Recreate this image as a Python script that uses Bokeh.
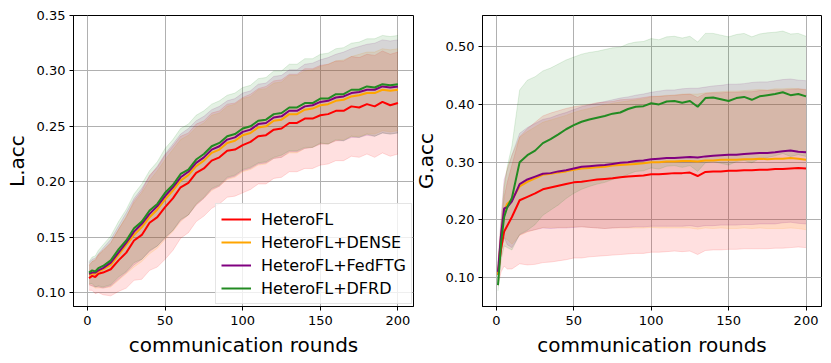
from bokeh.plotting import figure
from bokeh.models import ColumnDataSource, Legend, LegendItem, FixedTicker, NumeralTickFormatter, Range1d
from bokeh.layouts import row
from bokeh.embed import file_html
from bokeh.resources import INLINE

rounds = [1, 3, 5, 7, 10, 15, 20, 25, 30, 35, 40, 45, 50, 55, 60, 65, 70, 75, 80, 85, 90, 95,
          100, 105, 110, 115, 120, 125, 130, 135, 140, 145, 150, 155, 160, 165, 170, 175, 180,
          185, 190, 195, 200]

series_names = ["HeteroFL", "HeteroFL+DENSE", "HeteroFL+FedFTG", "HeteroFL+DFRD"]
series_colors = ["red", "orange", "purple", "forestgreen"]

# ---- local accuracy (left) ----
l_heterofl = [0.113, 0.115, 0.114, 0.117, 0.118, 0.121, 0.129, 0.136, 0.147, 0.152, 0.163, 0.168, 0.177, 0.185,
              0.195, 0.199, 0.208, 0.212, 0.219, 0.222, 0.228, 0.229, 0.233, 0.236, 0.241, 0.242, 0.247, 0.248,
              0.253, 0.253, 0.257, 0.257, 0.260, 0.261, 0.264, 0.264, 0.268, 0.267, 0.270, 0.268, 0.272, 0.269, 0.271]
l_dense = [0.116, 0.117, 0.117, 0.119, 0.121, 0.125, 0.134, 0.143, 0.152, 0.159, 0.168, 0.175, 0.184, 0.192,
           0.201, 0.206, 0.214, 0.219, 0.226, 0.229, 0.235, 0.237, 0.242, 0.244, 0.249, 0.250, 0.255, 0.256,
           0.261, 0.261, 0.265, 0.266, 0.269, 0.270, 0.273, 0.274, 0.277, 0.278, 0.280, 0.280, 0.283, 0.282, 0.283]
l_fedftg = [0.117, 0.118, 0.118, 0.120, 0.122, 0.127, 0.136, 0.145, 0.155, 0.162, 0.171, 0.178, 0.187, 0.195,
            0.204, 0.209, 0.217, 0.222, 0.229, 0.232, 0.238, 0.240, 0.245, 0.247, 0.252, 0.253, 0.258, 0.259,
            0.264, 0.264, 0.268, 0.269, 0.272, 0.273, 0.276, 0.277, 0.280, 0.281, 0.283, 0.283, 0.286, 0.285, 0.286]
l_dfrd = [0.118, 0.120, 0.119, 0.122, 0.124, 0.129, 0.139, 0.147, 0.158, 0.164, 0.174, 0.180, 0.190, 0.197,
          0.207, 0.211, 0.220, 0.225, 0.232, 0.235, 0.241, 0.243, 0.248, 0.250, 0.255, 0.256, 0.261, 0.262,
          0.267, 0.267, 0.271, 0.271, 0.275, 0.275, 0.279, 0.279, 0.283, 0.283, 0.286, 0.285, 0.288, 0.287, 0.288]

l_heterofl_std = [0.011, 0.013, 0.015, 0.017, 0.020, 0.024, 0.028, 0.032, 0.036, 0.040, 0.043, 0.045, 0.047, 0.047,
                  0.046, 0.045, 0.044, 0.043, 0.043, 0.042, 0.042, 0.042, 0.043, 0.043, 0.043, 0.044, 0.044, 0.044,
                  0.044, 0.044, 0.045, 0.045, 0.045, 0.045, 0.045, 0.045, 0.045, 0.045, 0.045, 0.046, 0.046, 0.046, 0.046]
l_dense_std = [0.009, 0.011, 0.013, 0.015, 0.017, 0.020, 0.023, 0.026, 0.029, 0.031, 0.033, 0.035, 0.036, 0.037,
               0.037, 0.036, 0.035, 0.034, 0.034, 0.033, 0.033, 0.033, 0.033, 0.033, 0.034, 0.034, 0.034, 0.034,
               0.035, 0.035, 0.035, 0.035, 0.035, 0.036, 0.036, 0.036, 0.036, 0.037, 0.037, 0.037, 0.037, 0.037, 0.037]
l_fedftg_std = [0.010, 0.012, 0.013, 0.015, 0.018, 0.021, 0.024, 0.027, 0.030, 0.032, 0.034, 0.036, 0.038, 0.039,
                0.039, 0.039, 0.038, 0.037, 0.036, 0.036, 0.035, 0.035, 0.035, 0.035, 0.036, 0.036, 0.037, 0.037,
                0.037, 0.037, 0.038, 0.038, 0.038, 0.039, 0.039, 0.040, 0.040, 0.041, 0.041, 0.042, 0.042, 0.042, 0.042]
l_dfrd_std = [0.010, 0.012, 0.014, 0.016, 0.019, 0.022, 0.025, 0.028, 0.031, 0.034, 0.036, 0.038, 0.040, 0.041,
              0.041, 0.041, 0.040, 0.039, 0.038, 0.038, 0.037, 0.037, 0.037, 0.037, 0.038, 0.038, 0.039, 0.038,
              0.039, 0.039, 0.040, 0.040, 0.040, 0.041, 0.041, 0.042, 0.042, 0.043, 0.043, 0.044, 0.044, 0.044, 0.044]

# ---- global accuracy (right) ----
g_heterofl = [0.105, 0.150, 0.180, 0.190, 0.205, 0.234, 0.240, 0.246, 0.253, 0.256, 0.259, 0.262, 0.265, 0.266,
              0.268, 0.270, 0.271, 0.272, 0.274, 0.275, 0.276, 0.277, 0.279, 0.279, 0.280, 0.281, 0.281, 0.282,
              0.276, 0.283, 0.284, 0.284, 0.285, 0.285, 0.286, 0.286, 0.287, 0.287, 0.288, 0.288, 0.289, 0.290, 0.289]
g_dense = [0.105, 0.170, 0.215, 0.228, 0.235, 0.258, 0.266, 0.272, 0.278, 0.280, 0.282, 0.284, 0.287, 0.289,
           0.290, 0.291, 0.292, 0.294, 0.295, 0.296, 0.297, 0.298, 0.300, 0.300, 0.301, 0.301, 0.302, 0.302,
           0.301, 0.303, 0.303, 0.304, 0.304, 0.304, 0.305, 0.305, 0.306, 0.305, 0.306, 0.306, 0.307, 0.306, 0.304]
g_fedftg = [0.110, 0.175, 0.220, 0.222, 0.232, 0.262, 0.270, 0.275, 0.280, 0.281, 0.284, 0.286, 0.289, 0.292,
            0.293, 0.294, 0.295, 0.297, 0.299, 0.300, 0.302, 0.303, 0.305, 0.306, 0.307, 0.307, 0.308, 0.309,
            0.308, 0.310, 0.311, 0.312, 0.313, 0.313, 0.314, 0.315, 0.316, 0.316, 0.317, 0.319, 0.320, 0.318, 0.317]
g_dfrd = [0.087, 0.160, 0.205, 0.222, 0.238, 0.300, 0.312, 0.320, 0.333, 0.340, 0.348, 0.357, 0.364, 0.370,
          0.374, 0.377, 0.380, 0.384, 0.386, 0.392, 0.396, 0.397, 0.402, 0.400, 0.405, 0.406, 0.403, 0.406,
          0.396, 0.411, 0.412, 0.409, 0.406, 0.411, 0.413, 0.408, 0.414, 0.416, 0.418, 0.421, 0.416, 0.418, 0.414]

g_heterofl_std = [0.020, 0.040, 0.060, 0.075, 0.090, 0.110, 0.118, 0.123, 0.127, 0.129, 0.130, 0.131, 0.131, 0.132,
                  0.132, 0.133, 0.133, 0.133, 0.134, 0.134, 0.134, 0.135, 0.135, 0.135, 0.135, 0.135, 0.136, 0.136,
                  0.136, 0.136, 0.136, 0.136, 0.136, 0.136, 0.136, 0.136, 0.137, 0.137, 0.137, 0.137, 0.137, 0.137, 0.137]
g_dense_std = [0.014, 0.028, 0.047, 0.062, 0.077, 0.085, 0.087, 0.089, 0.091, 0.093, 0.095, 0.097, 0.099, 0.101,
               0.103, 0.105, 0.107, 0.108, 0.109, 0.110, 0.111, 0.112, 0.113, 0.114, 0.115, 0.115, 0.116, 0.116,
               0.117, 0.117, 0.118, 0.118, 0.119, 0.119, 0.119, 0.120, 0.120, 0.120, 0.121, 0.121, 0.121, 0.121, 0.121]
g_fedftg_std = [0.015, 0.030, 0.050, 0.065, 0.080, 0.088, 0.090, 0.092, 0.094, 0.096, 0.098, 0.100, 0.102, 0.104,
                0.106, 0.108, 0.110, 0.111, 0.112, 0.113, 0.114, 0.115, 0.116, 0.117, 0.118, 0.118, 0.119, 0.119,
                0.120, 0.120, 0.121, 0.121, 0.122, 0.122, 0.122, 0.123, 0.123, 0.123, 0.124, 0.124, 0.124, 0.124, 0.124]
g_dfrd_std = [0.010, 0.030, 0.050, 0.070, 0.090, 0.125, 0.130, 0.128, 0.125, 0.123, 0.122, 0.120, 0.118, 0.117,
              0.116, 0.115, 0.115, 0.114, 0.113, 0.113, 0.112, 0.112, 0.112, 0.112, 0.112, 0.112, 0.112, 0.112,
              0.112, 0.112, 0.111, 0.111, 0.111, 0.110, 0.110, 0.109, 0.108, 0.108, 0.107, 0.106, 0.106, 0.105, 0.104]

x_ticks = [0, 50, 100, 150, 200]
l_ticks = [0.10, 0.15, 0.20, 0.25, 0.30, 0.35]
g_ticks = [0.10, 0.20, 0.30, 0.40, 0.50]

FONT = "DejaVu Sans"


def make_panel(means, stds, ylabel, yrange, yticks, width, border_left, border_right):
    p = figure(width=width, height=360, output_backend="svg", toolbar_location=None,
               x_range=Range1d(-9, 210), y_range=Range1d(*yrange),
               min_border_left=border_left, min_border_right=border_right,
               min_border_top=15, min_border_bottom=54)
    p.outline_line_color = "black"
    p.outline_line_width = 1
    p.outline_line_alpha = 1
    p.background_fill_color = "white"
    p.border_fill_alpha = 0
    srcs = []
    lines = []
    for m, s, c in zip(means, stds, series_colors):
        lo = [a - b for a, b in zip(m, s)]
        hi = [a + b for a, b in zip(m, s)]
        src = ColumnDataSource(dict(x=rounds, m=m, lo=lo, hi=hi))
        p.varea(x="x", y1="lo", y2="hi", source=src, fill_color=c, fill_alpha=0.12)
        p.line(x="x", y="lo", source=src, line_color=c, line_alpha=0.13, line_width=1)
        p.line(x="x", y="hi", source=src, line_color=c, line_alpha=0.13, line_width=1)
        srcs.append(src)
    for src, c in zip(srcs, series_colors):
        r = p.line(x="x", y="m", source=src, line_color=c, line_width=2)
        lines.append(r)
    p.xaxis.ticker = FixedTicker(ticks=x_ticks)
    p.yaxis.ticker = FixedTicker(ticks=yticks)
    p.yaxis.formatter = NumeralTickFormatter(format="0.00")
    for ax in (p.xaxis[0], p.yaxis[0]):
        ax.major_label_text_font = FONT
        ax.major_label_text_font_size = "13px"
        ax.major_label_text_color = "black"
        ax.axis_label_text_font = FONT
        ax.axis_label_text_font_size = "20px"
        ax.axis_label_text_font_style = "normal"
        ax.axis_label_text_color = "black"
        ax.major_tick_out = 4
        ax.major_tick_in = 0
        ax.minor_tick_line_color = None
        ax.major_tick_line_color = "black"
        ax.axis_line_color = "black"
    p.xaxis.major_label_standoff = 5
    p.yaxis.major_label_standoff = 4
    p.xaxis.axis_label = "communication rounds"
    p.xaxis.axis_label_standoff = 5
    p.yaxis.axis_label = ylabel
    p.yaxis.axis_label_standoff = 5
    p.xgrid.grid_line_color = "#b0b0b0"
    p.ygrid.grid_line_color = "#b0b0b0"
    p.xgrid.grid_line_width = 1
    p.ygrid.grid_line_width = 1
    return p, lines


p1, lines1 = make_panel([l_heterofl, l_dense, l_fedftg, l_dfrd],
                        [l_heterofl_std, l_dense_std, l_fedftg_std, l_dfrd_std],
                        "L.acc", (0.0874, 0.350), l_ticks, 441, 73, 28)
p2, lines2 = make_panel([g_heterofl, g_dense, g_fedftg, g_dfrd],
                        [g_heterofl_std, g_dense_std, g_fedftg_std, g_dfrd_std],
                        "G.acc", (0.050, 0.554), g_ticks, 426, 77, 10)

legend = Legend(items=[LegendItem(label=n, renderers=[r]) for n, r in zip(series_names, lines1)],
                location=(142, 2))
legend.label_text_font = FONT
legend.label_text_font_size = "16px"
legend.label_text_color = "black"
legend.glyph_width = 30
legend.glyph_height = 20
legend.label_height = 20
legend.label_standoff = 10
legend.padding = 5
legend.spacing = 3
legend.margin = 0
legend.border_line_color = "#cccccc"
legend.border_line_width = 1
legend.background_fill_color = "white"
legend.background_fill_alpha = 0.8
p1.add_layout(legend, "center")

p1.styles = {"flex-shrink": "0"}
p2.styles = {"flex-shrink": "0"}
p2.margin = (0, 0, 0, -36)

layout = row(p1, p2)
open("out.html", "w").write(file_html(layout, INLINE))
